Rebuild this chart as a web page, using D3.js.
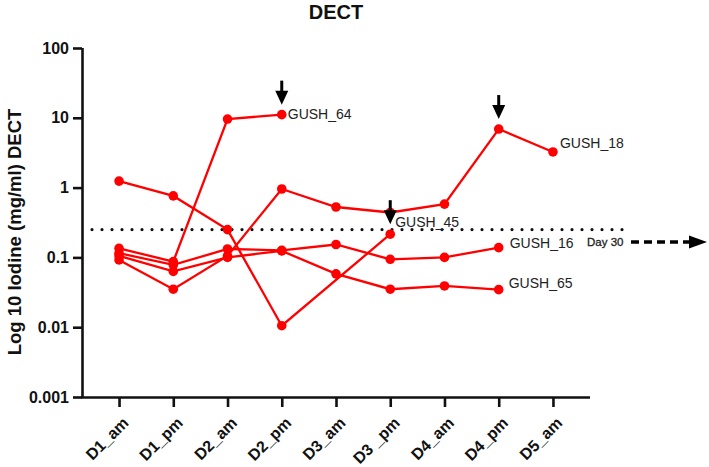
<!DOCTYPE html>
<html><head><meta charset="utf-8">
<script src="https://cdn.jsdelivr.net/npm/d3@7"></script>
<style>
html,body{margin:0;padding:0;background:#fff;}
svg{display:block;font-family:"Liberation Sans",Arial,sans-serif;}
</style></head>
<body>
<svg id="chart" width="709" height="467"></svg>
<script>
const categories = ["D1_am","D1_pm","D2_am","D2_pm","D3_am","D3 _pm","D4_am","D4_pm","D5_am"];
const yTickValues = [0.001, 0.01, 0.1, 1, 10, 100];
const yTickLabels = ["0.001", "0.01", "0.1", "1", "10", "100"];
const seriesNames = ["GUSH_64", "GUSH_45", "GUSH_18", "GUSH_16", "GUSH_65"];
const gush64 = [0.135, 0.087, 9.6, 11.1, null, null, null, null, null];
const gush45 = [1.24, 0.76, 0.25, 0.0105, null, 0.215, null, null, null];
const gush18 = [0.092, 0.035, 0.105, 0.955, 0.527, 0.44, 0.58, 6.9, 3.24];
const gush16 = [0.115, 0.078, 0.132, 0.126, 0.153, 0.094, 0.1, 0.138, null];
const gush65 = [0.105, 0.063, 0.1, 0.124, 0.058, 0.035, 0.039, 0.0345, null];
const thresholdValue = 0.25;
const arrowMarks = [["GUSH_64", "D2_pm"], ["GUSH_45", "D3 _pm"], ["GUSH_18", "D4_pm"]];
const titleText = "DECT";
const yTitleText = "Log 10 Iodine (mg/ml) DECT";
const dayText = "Day 30";

const seriesValues = [gush64, gush45, gush18, gush16, gush65];
const series = seriesNames.map((n, i) => ({
  name: n,
  points: seriesValues[i].map((v, j) => ({cat: categories[j], v})).filter(d => d.v != null)
}));

const svg = d3.select("#chart");
const red = "#ff0000";
const x = d3.scalePoint().domain(categories).range([82, 590]).padding(0.683);
const y = d3.scaleLog().domain([0.001, 100]).range([397, 48]);

// title
svg.append("text").attr("x", 336).attr("y", 19).attr("text-anchor", "middle")
  .attr("font-size", 20).attr("font-weight", "bold").attr("fill", "#111").text(titleText);

// y title
svg.append("text").attr("transform", "translate(21,232) rotate(-90)")
  .attr("text-anchor", "middle").attr("font-size", 18.5).attr("font-weight", "bold")
  .attr("fill", "#111").text(yTitleText);

// threshold dotted line
svg.append("line").attr("x1", 92).attr("x2", 623)
  .attr("y1", y(thresholdValue)).attr("y2", y(thresholdValue))
  .attr("stroke", "#111").attr("stroke-width", 3.2).attr("stroke-linecap", "round")
  .attr("stroke-dasharray", "0,10");

// axes
const yAxis = d3.axisLeft(y).tickValues(yTickValues).tickFormat((d, i) => yTickLabels[i])
  .tickSizeInner(9).tickSizeOuter(0).tickPadding(4);
const gy = svg.append("g").attr("transform", "translate(82,0)").call(yAxis);
const xAxis = d3.axisBottom(x).tickSizeInner(10).tickSizeOuter(0).tickPadding(3);
const gx = svg.append("g").attr("transform", "translate(0,397)").call(xAxis);
[gx, gy].forEach(g => {
  g.select(".domain").attr("stroke", "#111").attr("stroke-width", 2.6);
  g.selectAll(".tick line").attr("stroke", "#111").attr("stroke-width", 2.6);
  g.selectAll(".tick text").attr("font-size", 16).attr("font-weight", "bold")
    .attr("fill", "#111").attr("font-family", "Liberation Sans, Arial, sans-serif");
});
gy.select(".domain").attr("d", "M0.5,397V48");
gx.select(".domain").attr("d", "M81,0.5H590");
gx.selectAll(".tick text").attr("text-anchor", "end").attr("dy", "0.35em")
  .attr("transform", "translate(6,23) rotate(-45)").attr("y", 0).attr("x", 0);

// lines
const line = d3.line().x(d => x(d.cat)).y(d => y(d.v));
const g = svg.append("g");
series.forEach(s => {
  g.append("path").attr("d", line(s.points)).attr("fill", "none")
    .attr("stroke", red).attr("stroke-width", 2.3);
});
series.forEach(s => {
  g.selectAll(null).data(s.points).join("circle")
    .attr("cx", d => x(d.cat)).attr("cy", d => y(d.v)).attr("r", 4.8).attr("fill", red);
});

// series labels at last points
const labelOffsets = {GUSH_64: [6, 4.5], GUSH_45: [5, -7], GUSH_18: [7, -4], GUSH_16: [11, 0], GUSH_65: [10, -2]};
series.forEach(s => {
  const last = s.points[s.points.length - 1];
  const o = labelOffsets[s.name];
  svg.append("text").attr("x", x(last.cat) + o[0]).attr("y", y(last.v) + o[1])
    .attr("font-size", 14).attr("fill", "#222").text(s.name);
});

// arrows above selected points
arrowMarks.forEach(([name, cat]) => {
  const s = series.find(d => d.name === name);
  const p = s.points.find(d => d.cat === cat);
  const cx = x(cat), tip = y(p.v) - 10;
  svg.append("line").attr("x1", cx).attr("x2", cx).attr("y1", tip - 24).attr("y2", tip - 10)
    .attr("stroke", "#000").attr("stroke-width", 3);
  svg.append("path").attr("d", `M${cx - 6.5},${tip - 14}L${cx + 6.5},${tip - 14}L${cx},${tip}Z`).attr("fill", "#000");
});

// Day 30 annotation
const dayY = 242;
svg.append("text").attr("x", 587).attr("y", dayY + 4).attr("font-size", 11.5)
  .attr("fill", "#222").attr("stroke", "#222").attr("stroke-width", 0.3).text(dayText);
svg.append("line").attr("x1", 631).attr("x2", 692).attr("y1", dayY).attr("y2", dayY)
  .attr("stroke", "#000").attr("stroke-width", 3.3).attr("stroke-dasharray", "8,5");
svg.append("path").attr("d", `M689,${dayY - 6.5}L707,${dayY}L689,${dayY + 6.5}Z`).attr("fill", "#000");
</script>
</body></html>
